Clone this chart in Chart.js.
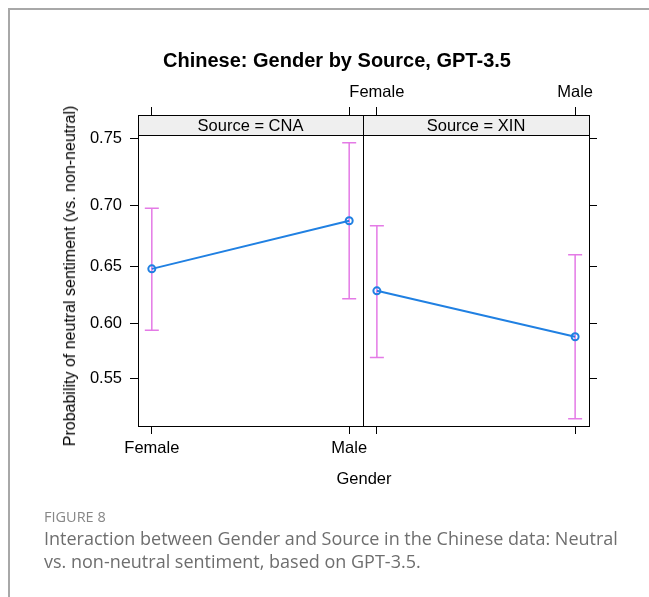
<!DOCTYPE html>
<html>
<head>
<meta charset="utf-8">
<script src="https://cdn.jsdelivr.net/npm/chart.js@4"></script>
<style>
  body { margin: 0; background: #fff; width: 649px; height: 597px; overflow: hidden; position: relative; }
  canvas { position: absolute; left: 0; top: 0; }
  #frame { position: absolute; left: 8px; top: 8px; width: 660px; height: 620px; border-top: 2px solid #a8a8a8; border-left: 2px solid #a8a8a8; }
  .lbl { position: absolute; font-family: 'Liberation Sans', Arial, sans-serif; color: #000; white-space: nowrap; }
  #title { left: 0; width: 674px; top: 50px; text-align: center; font-size: 20px; line-height: 20px; font-weight: bold; }
  #ytitle { left: 69.5px; top: 276px; font-size: 16px; line-height: 16px; transform: translate(-50%, -50%) rotate(-90deg); }
  #xtitle { left: 364px; top: 470px; font-size: 16.5px; line-height: 16px; transform: translateX(-50%); }
  #fig { position: absolute; left: 44px; top: 507.5px; font: 14.5px/18px 'Open Sans', sans-serif; color: #878787; }
  #caption { position: absolute; left: 44px; top: 526.5px; font: 18px/23px 'Open Sans', sans-serif; color: #6e6e6e; white-space: nowrap; }
</style>
</head>
<body>
<div id="frame"></div>
<canvas id="cna" width="649" height="597"></canvas>
<canvas id="xin" width="649" height="597"></canvas>
<div class="lbl" id="title">Chinese: Gender by Source, GPT-3.5</div>
<div class="lbl" id="ytitle">Probability of neutral sentiment (vs. non-neutral)</div>
<div class="lbl" id="xtitle">Gender</div>
<div id="fig">FIGURE 8</div>
<div id="caption">Interaction between Gender and Source in the Chinese data: Neutral<br>vs. non-neutral sentiment, based on GPT-3.5.</div>
<script>
// data (probabilities, CI bounds)
const genders = ['Female', 'Male'];
const cnaFit = [0.648, 0.688];
const cnaLower = [0.594, 0.622];
const cnaUpper = [0.698, 0.747];
const xinFit = [0.629, 0.588];
const xinLower = [0.569, 0.512];
const xinUpper = [0.684, 0.660];
const yTicks = [0.55, 0.60, 0.65, 0.70, 0.75];

const FONT = { family: "'Liberation Sans', Arial, sans-serif", size: 16.5 };
const LINE_COL = '#2080e2';
const BAR_COL = '#e47ae6';

function logit(p) { return Math.log(p / (1 - p)); }
function expit(x) { return 1 / (1 + Math.exp(-x)); }

// effects-style axis: probabilities placed on the logit scale
class LogitScale extends Chart.LinearScale {
  getPixelForValue(v) {
    const a = logit(this.min), b = logit(this.max);
    return this.getPixelForDecimal((logit(v) - a) / (b - a));
  }
  getValueForPixel(px) {
    const a = logit(this.min), b = logit(this.max);
    return expit(a + this.getDecimalForPixel(px) * (b - a));
  }
}
LogitScale.id = 'logit';
Chart.register(LogitScale);

const errorBars = {
  id: 'errorBars',
  beforeDatasetsDraw(chart, args, opts) {
    const ctx = chart.ctx, xs = chart.scales.x, ys = chart.scales.y;
    ctx.save();
    ctx.strokeStyle = BAR_COL;
    ctx.lineWidth = 1.5;
    opts.lower.forEach((lo, i) => {
      const px = xs.getPixelForValue(i);
      const top = ys.getPixelForValue(opts.upper[i]);
      const bot = ys.getPixelForValue(lo);
      ctx.beginPath();
      ctx.moveTo(px, top); ctx.lineTo(px, bot);
      ctx.moveTo(px - 7, top); ctx.lineTo(px + 7, top);
      ctx.moveTo(px - 7, bot); ctx.lineTo(px + 7, bot);
      ctx.stroke();
    });
    ctx.restore();
  }
};

const strip = {
  id: 'strip',
  beforeDatasetsDraw(chart, args, opts) {
    const ctx = chart.ctx, a = chart.chartArea;
    ctx.save();
    ctx.fillStyle = '#efefef';
    ctx.fillRect(a.left, a.top, a.right - a.left, 20);
    ctx.strokeStyle = '#000';
    ctx.lineWidth = 1;
    ctx.beginPath();
    ctx.moveTo(a.left, a.top + 20.5); ctx.lineTo(a.right, a.top + 20.5);
    ctx.stroke();
    ctx.fillStyle = '#000';
    ctx.font = FONT.size + 'px ' + FONT.family;
    ctx.textAlign = 'center';
    ctx.textBaseline = 'middle';
    ctx.fillText(opts.label, (a.left + a.right) / 2, a.top + 11);
    ctx.restore();
  },
  afterDraw(chart) {
    const ctx = chart.ctx, a = chart.chartArea;
    ctx.save();
    ctx.strokeStyle = '#000';
    ctx.lineWidth = 1;
    ctx.strokeRect(a.left + 0.5, a.top + 0.5, a.right - a.left, a.bottom - a.top);
    ctx.restore();
  }
};

function xAxis(pos, showLabels, h) {
  return {
    type: 'linear', position: pos, min: -0.07, max: 1.07,
    afterBuildTicks: s => { s.ticks = genders.map((g, i) => ({ value: i })); },
    ticks: { display: showLabels, callback: v => genders[v], font: FONT, color: '#000', padding: 5, maxRotation: 0, autoSkip: false },
    grid: { drawOnChartArea: false, tickLength: 8, color: '#000' },
    border: { display: false },
    afterFit: s => { s.height = h; }
  };
}

function yAxis(pos, showLabels, w) {
  return {
    type: 'logit', position: pos, min: 0.5053, max: 0.7662,
    afterBuildTicks: s => { s.ticks = yTicks.map(v => ({ value: v })); },
    ticks: { display: showLabels, callback: v => v.toFixed(2), font: FONT, color: '#000', padding: 8 },
    grid: { drawOnChartArea: false, tickLength: 8, color: '#000' },
    border: { display: false },
    afterFit: s => { s.width = w; }
  };
}

function panel(id, label, fit, lower, upper, left) {
  return new Chart(document.getElementById(id), {
    type: 'line',
    data: {
      datasets: [{
        data: fit.map((v, i) => ({ x: i, y: v })),
        borderColor: LINE_COL,
        borderWidth: 2,
        pointRadius: 3.5,
        pointBorderWidth: 2,
        pointBorderColor: LINE_COL,
        pointBackgroundColor: 'rgba(0,0,0,0)'
      }]
    },
    options: {
      responsive: false,
      animation: false,
      events: [],
      layout: { padding: left ? { left: 78, right: 286, top: 105, bottom: 131 } : { left: 363, right: 50, top: 75, bottom: 161 } },
      scales: {
        x: xAxis('bottom', left, left ? 40 : 10),
        xTop: xAxis('top', !left, left ? 10 : 40),
        y: yAxis(left ? 'left' : 'right', left, left ? 60 : 10)
      },
      plugins: {
        legend: { display: false },
        tooltip: { enabled: false },
        errorBars: { lower: lower, upper: upper },
        strip: { label: label }
      }
    },
    plugins: [errorBars, strip]
  });
}

panel('cna', 'Source = CNA', cnaFit, cnaLower, cnaUpper, true);
panel('xin', 'Source = XIN', xinFit, xinLower, xinUpper, false);
</script>
</body>
</html>
